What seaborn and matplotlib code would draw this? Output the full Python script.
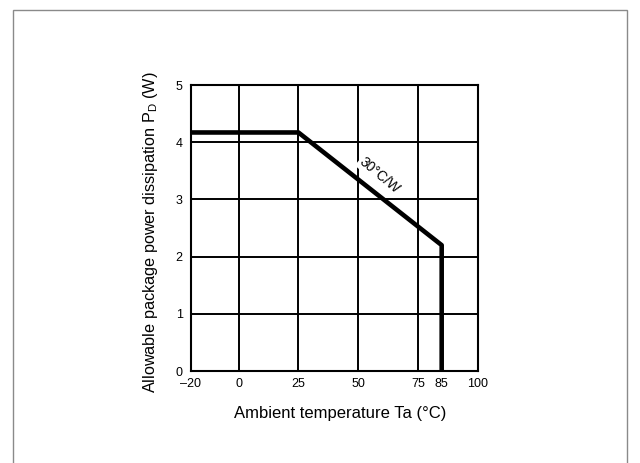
import matplotlib
matplotlib.use("Agg")
import matplotlib.pyplot as plt
import seaborn as sns
import pandas as pd
from matplotlib.patches import Rectangle

# Data
temps = [-20, 25, 85, 85]
power = [4.17, 4.17, 2.2, 0.0]
x_ticks = [-20, 0, 25, 50, 75, 85, 100]
x_grid = [0, 25, 50, 75]
y_ticks = [0, 1, 2, 3, 4, 5]
y_grid = [1, 2, 3, 4]
slope_label = "30°C/W"

sns.set_theme(style="white")
plt.rcParams['font.family'] = ['Liberation Sans', 'DejaVu Sans']
plt.rcParams['mathtext.default'] = 'regular'

fig = plt.figure(figsize=(6.4, 4.63), dpi=100)
ax = fig.add_axes([191/640, 1-371/463, (477.5-191)/640, (371-85)/463])

# outer frame
fig.patches.append(Rectangle((13/640, -0.2), (627-13)/640, 1.2 - 10/463,
                             transform=fig.transFigure, fill=False,
                             edgecolor='#8a8a8a', linewidth=1.0))

for gx in x_grid:
    ax.axvline(gx, color='black', lw=1.4, zorder=1)
for gy in y_grid:
    ax.axhline(gy, color='black', lw=1.4, zorder=1)

df = pd.DataFrame({"Ta": temps, "Pd": power})
sns.lineplot(data=df, x="Ta", y="Pd", sort=False, color='black', lw=3.3,
             ax=ax, zorder=3, estimator=None)

ax.set_xlim(-20, 100)
ax.set_ylim(0, 5)
ax.set_xticks(x_ticks)
ax.set_xticklabels(["\u201320" if t < 0 else str(t) for t in x_ticks])
ax.set_yticks(y_ticks)
ax.tick_params(axis='both', length=0, labelsize=9, colors='black')
ax.tick_params(axis='x', pad=5)
ax.tick_params(axis='y', pad=6)
for s in ax.spines.values():
    s.set_color('black')
    s.set_linewidth(1.5)

ax.set_xlabel("Ambient temperature Ta (°C)", fontsize=12, color='black')
ax.set_ylabel(r"Allowable package power dissipation P$_{D}$ (W)", fontsize=11.7,
              color='black')
ax.xaxis.set_label_coords(0.52, -0.147)
ax.yaxis.set_label_coords(-0.14, 0.486)
ax.xaxis.label.set_va('center')
ax.yaxis.label.set_va('center')

ax.text(59, 3.42, slope_label, rotation=-40, ha='center', va='center',
        fontsize=10, color='black', zorder=4, rotation_mode='anchor',
        bbox=dict(facecolor='white', edgecolor='none', pad=1))

fig.savefig("out.png", dpi=100)
